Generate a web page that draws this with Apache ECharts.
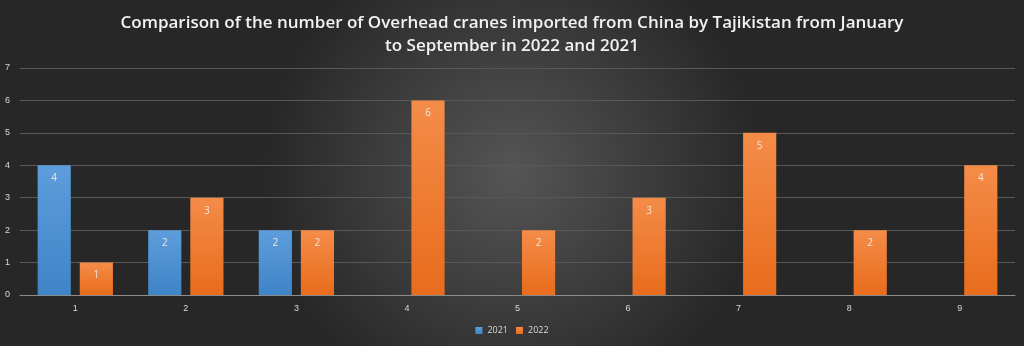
<!DOCTYPE html>
<html><head><meta charset="utf-8">
<script src="https://cdn.jsdelivr.net/npm/echarts@6/dist/echarts.min.js"></script>
<style>html,body{margin:0;padding:0;}#c{width:1024px;height:346px;}</style>
</head><body><div id="c"></div>
<script>
const categories = ['1','2','3','4','5','6','7','8','9'];
const s2021 = [4, 2, 2, null, null, null, null, null, null];
const s2022 = [1, 3, 2, 6, 2, 3, 5, 2, 4];
const chart = echarts.init(document.getElementById('c'));
const lbl = {show:true, position:'insideTop', distance:8, color:'#f2e6dc', fontSize:10, fontFamily:'Open Sans'};
chart.setOption({
  backgroundColor: {type:'radial', x:0.5, y:0.5, r:0.72, colorStops:[{offset:0,color:'#555555'},{offset:1,color:'#272727'}]},
  title: {text:'Comparison of the number of Overhead cranes imported from China by Tajikistan from January\nto September in 2022 and 2021', left:'center', top:7,
    textStyle:{color:'#f2f2f2', fontSize:17, fontWeight:600, fontFamily:'Open Sans', lineHeight:23}},
  legend: {bottom:6, left:'center', itemWidth:7, itemHeight:7, itemGap:8, icon:'rect',
    textStyle:{color:'#d9d9d9', fontSize:9, fontFamily:'Open Sans'}},
  grid: {left:20, right:9, top:68, bottom:51, containLabel:false},
  xAxis: {type:'category', data:categories, axisTick:{show:false},
    axisLine:{lineStyle:{color:'#8c8c8c'}}, axisLabel:{color:'#d9d9d9', fontSize:9, margin:9}},
  yAxis: {type:'value', min:0, max:7, interval:1, axisLabel:{color:'#d9d9d9', fontSize:9, margin:10},
    splitLine:{lineStyle:{color:'#585858'}}},
  series: [
    {name:'2021', type:'bar', data:s2021, barWidth:'30%', barGap:'27%', label:lbl,
     itemStyle:{color:{type:'linear',x:0,y:0,x2:0,y2:1,colorStops:[{offset:0,color:'#5d9ddb'},{offset:1,color:'#3f84c8'}]}}},
    {name:'2022', type:'bar', data:s2022, barWidth:'30%', label:lbl,
     itemStyle:{color:{type:'linear',x:0,y:0,x2:0,y2:1,colorStops:[{offset:0,color:'#f48c48'},{offset:1,color:'#e86c1c'}]}}}
  ]
});
</script></body></html>
